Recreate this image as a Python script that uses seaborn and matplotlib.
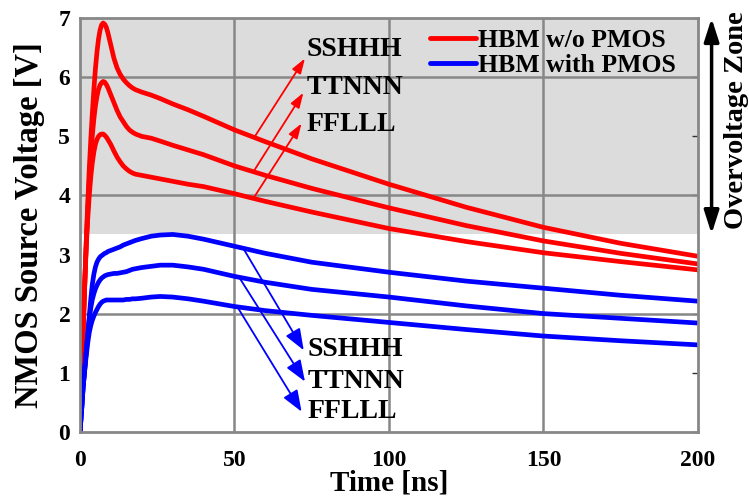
import matplotlib
matplotlib.use('Agg')
import matplotlib.pyplot as plt
import seaborn as sns
import pandas as pd
from matplotlib.lines import Line2D

# ---------------- data ----------------
time_ns = [0, 0.5, 1, 1.5, 2, 2.5, 3, 3.5, 4, 4.5, 5, 5.5, 6, 6.5, 7, 7.5, 8, 8.5, 9,
           10, 11, 12, 13, 14, 15, 16, 17, 18,
           20, 23, 26, 30, 35, 40,
           50, 60, 75, 100, 125, 150, 175, 200]

red_sshhh = [0, 0.9, 1.7, 2.45, 3.2, 3.85, 4.45, 4.95, 5.4, 5.8, 6.15, 6.43, 6.65, 6.8, 6.89,
             6.92, 6.9, 6.85, 6.76,
             6.54, 6.32, 6.16, 6.05, 5.97, 5.91, 5.86, 5.82, 5.79,
             5.75, 5.7, 5.64, 5.55, 5.45, 5.34,
             5.11, 4.91, 4.62, 4.19, 3.8, 3.46, 3.19, 2.97]
red_ttnnn = [0, 0.9, 1.7, 2.45, 3.15, 3.75, 4.25, 4.68, 5.02, 5.3, 5.52, 5.68, 5.8, 5.87, 5.91,
             5.93, 5.92, 5.88, 5.83,
             5.7, 5.57, 5.44, 5.33, 5.25, 5.17, 5.11, 5.07, 5.04,
             5.0, 4.97, 4.92, 4.85, 4.77, 4.69,
             4.5, 4.34, 4.12, 3.79, 3.49, 3.23, 3.02, 2.84]
red_fflll = [0, 0.9, 1.7, 2.45, 3.1, 3.6, 4.0, 4.32, 4.56, 4.74, 4.87, 4.95, 5.0, 5.03, 5.04,
             5.04, 5.02, 4.99, 4.95,
             4.86, 4.75, 4.65, 4.57, 4.5, 4.45, 4.41, 4.38, 4.36,
             4.34, 4.31, 4.28, 4.24, 4.19, 4.15,
             4.03, 3.9, 3.72, 3.44, 3.22, 3.03, 2.88, 2.74]

blue_sshhh = [0, 0.35, 0.75, 1.05, 1.35, 1.65, 1.95, 2.25, 2.5, 2.67, 2.79, 2.87, 2.92, 2.96,
              2.98, 3.0, 3.02, 3.03, 3.05,
              3.07, 3.09, 3.11, 3.13, 3.16, 3.18, 3.2, 3.22, 3.24,
              3.27, 3.31, 3.33, 3.34, 3.31, 3.26,
              3.14, 3.02, 2.87, 2.7, 2.55, 2.43, 2.31, 2.21]
blue_ttnnn = [0, 0.35, 0.75, 1.05, 1.35, 1.63, 1.9, 2.1, 2.24, 2.34, 2.42, 2.48, 2.53, 2.57,
              2.6, 2.62, 2.64, 2.65, 2.66,
              2.67, 2.68, 2.68, 2.69, 2.7, 2.71, 2.73, 2.75, 2.76,
              2.78, 2.8, 2.82, 2.82, 2.79, 2.75,
              2.63, 2.53, 2.41, 2.28, 2.13, 2.0, 1.92, 1.84]
blue_fflll = [0, 0.35, 0.75, 1.02, 1.28, 1.5, 1.68, 1.8, 1.89, 1.96, 2.02, 2.07, 2.12, 2.16,
              2.19, 2.21, 2.22, 2.23, 2.23,
              2.23, 2.23, 2.23, 2.23, 2.23, 2.24, 2.24, 2.25, 2.25,
              2.26, 2.28, 2.29, 2.28, 2.25, 2.21,
              2.12, 2.05, 1.97, 1.85, 1.73, 1.62, 1.54, 1.47]

corner_labels = ['SSHHH', 'TTNNN', 'FFLLL']
legend_labels = ['HBM w/o PMOS', 'HBM with PMOS']
x_ticks = [0, 50, 100, 150, 200]
y_ticks = [0, 1, 2, 3, 4, 5, 6, 7]
overvoltage_level = 3.35

# arrow annotation anchors (tail on curve -> head near label), label positions
red_tails = [(56.6, 5.0), (56.1, 4.40), (56.1, 3.95)]
red_heads = [(72.8, 6.32), (72.3, 5.74), (71.7, 5.22)]
red_label_pos = [(73.4, 6.36), (73.4, 5.71), (73.4, 5.09)]
blue_tails = [(52.9, 3.10), (51.8, 2.59), (51.2, 2.09)]
blue_heads = [(72.4, 1.38), (72.8, 0.85), (71.7, 0.34)]
blue_label_pos = [(73.6, 1.28), (73.6, 0.74), (73.6, 0.24)]

# ---------------- styling ----------------
sns.set_theme(style='white')
plt.rcParams['font.family'] = ['Liberation Serif', 'DejaVu Serif']
plt.rcParams['font.weight'] = 'bold'
plt.rcParams['axes.labelweight'] = 'bold'
for key in ['text.color', 'axes.labelcolor', 'xtick.labelcolor', 'ytick.labelcolor']:
    plt.rcParams[key] = 'black'

RED = '#ff0000'
BLUE = '#0000ff'
GRID = '#878787'

fig = plt.figure(figsize=(7.49, 4.98), dpi=100)
ax = fig.add_axes([0.1068, 0.1331, 0.8251, 0.8302])

rows = []
for grp, series in [(legend_labels[0], [red_sshhh, red_ttnnn, red_fflll]),
                    (legend_labels[1], [blue_sshhh, blue_ttnnn, blue_fflll])]:
    for corner, vals in zip(corner_labels, series):
        for t, v in zip(time_ns, vals):
            rows.append({'Time': t, 'Voltage': v, 'Group': grp, 'Corner': corner})
df = pd.DataFrame(rows)

ax.axhspan(overvoltage_level, 7, color='#dcdcdc', zorder=0, lw=0)
for xv in x_ticks[1:-1]:
    ax.axvline(xv, color=GRID, lw=1.8, zorder=1)
for yv in [2, 4, 6]:
    ax.axhline(yv, color=GRID, lw=1.8, zorder=1)

sns.lineplot(data=df, x='Time', y='Voltage', hue='Group', units='Corner', estimator=None,
             palette={legend_labels[0]: RED, legend_labels[1]: BLUE}, lw=3.4,
             legend=False, ax=ax, sort=False, zorder=3)

ax.set_xlim(0, 200)
ax.set_ylim(0, 7)
ax.set_xticks(x_ticks)
ax.set_yticks(y_ticks)
ax.tick_params(axis='x', bottom=False, labelsize=17, pad=7, labelcolor='black')
ax.tick_params(axis='y', left=False, right=True, direction='in', length=4, width=1,
               color='#333333', labelsize=17, pad=7, labelcolor='black')
for lab in ax.get_xticklabels() + ax.get_yticklabels():
    lab.set_fontweight('bold')
for sp in ax.spines.values():
    sp.set_color(GRID)
    sp.set_linewidth(2)
    sp.set_zorder(4)

ax.set_xlabel('Time [ns]', fontsize=21, fontweight='bold', color='black')
ax.set_ylabel('NMOS Source Voltage [V]', fontsize=23.5, fontweight='bold', color='black')
ax.xaxis.set_label_coords(0.5, -0.092)
ax.yaxis.set_label_coords(-0.056, 0.5)

# corner arrows + labels
for (tail, head, pos, lab) in zip(red_tails, red_heads, red_label_pos, corner_labels):
    ax.annotate('', xy=head, xytext=tail,
                arrowprops=dict(arrowstyle='-|>,head_length=0.9,head_width=0.3',
                                color=RED, lw=1.3, mutation_scale=10, shrinkA=0, shrinkB=0),
                zorder=5)
    ax.text(pos[0], pos[1], lab, fontsize=20, fontweight='bold', ha='left', va='baseline',
            color='black', zorder=6)
for (tail, head, pos, lab) in zip(blue_tails, blue_heads, blue_label_pos, corner_labels):
    ax.annotate('', xy=head, xytext=tail,
                arrowprops=dict(arrowstyle='-|>,head_length=1.3,head_width=0.5',
                                color=BLUE, lw=1.3, mutation_scale=10, shrinkA=0, shrinkB=0),
                zorder=5)
    ax.text(pos[0], pos[1], lab, fontsize=20, fontweight='bold', ha='left', va='baseline',
            color='black', zorder=6)

# legend
handles = [Line2D([], [], color=RED, lw=3.5), Line2D([], [], color=BLUE, lw=3.5)]
leg = ax.legend(handles, legend_labels, loc='upper left', bbox_to_anchor=(0.545, 1.004),
                frameon=False, borderpad=0, handlelength=1.8, handletextpad=0.1,
                labelspacing=0.06, prop={'size': 18.5, 'weight': 'bold'})
for txt in leg.get_texts():
    txt.set_color('black')
leg.set_zorder(7)

# overvoltage zone double arrow + text
ax.annotate('', xy=(204.4, 7.0), xytext=(204.4, overvoltage_level),
            arrowprops=dict(arrowstyle='<|-|>,head_length=1.4,head_width=0.45',
                            color='black', lw=2.5, mutation_scale=10, shrinkA=0, shrinkB=0),
            annotation_clip=False)
fig.text(0.983, 0.758, 'Overvoltage Zone', rotation=90, ha='center', va='center',
         fontsize=20.5, fontweight='bold', color='black')

fig.savefig('out.png', dpi=100)
